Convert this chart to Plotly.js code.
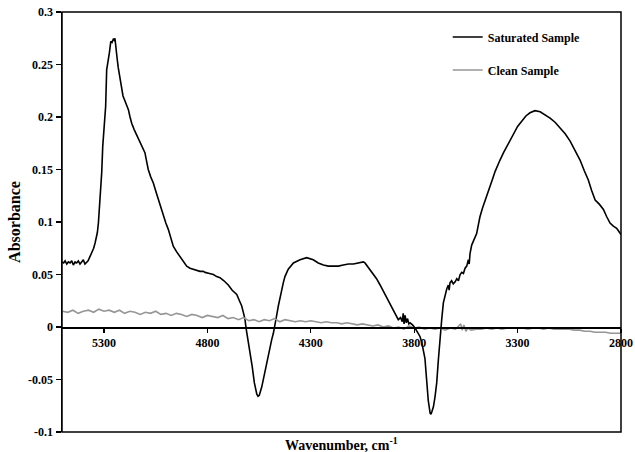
<!DOCTYPE html>
<html>
<head>
<meta charset="utf-8">
<script src="https://cdn.plot.ly/plotly-3.0.1.min.js"></script>
<style>
  html, body { margin: 0; padding: 0; background: #fff; }
  #chart { width: 635px; height: 452px; }
</style>
</head>
<body>
<div id="chart"></div>
<script>
// FTIR absorbance spectra: saturated vs clean sample
const satWavenumber = [
  5503, 5495, 5488, 5480, 5472, 5464, 5456, 5448, 5440, 5432, 5424, 5416, 5408, 5400, 5392, 5384, 5377,
  5370, 5360, 5350, 5343, 5336, 5332, 5327, 5323, 5316, 5311, 5306, 5298, 5292, 5287, 5280, 5274, 5267,
  5261, 5255, 5250, 5247, 5242, 5236, 5231, 5225, 5218, 5208, 5198, 5190, 5182, 5174, 5166, 5154, 5142,
  5130, 5118, 5110, 5102, 5094, 5086, 5074, 5061, 5049, 5037, 5025, 5013, 5001, 4989, 4977, 4965, 4950,
  4932, 4916, 4900, 4884, 4868, 4850, 4836, 4820, 4811, 4790, 4771, 4755, 4739, 4720, 4699, 4680, 4658,
  4645, 4634, 4625, 4618, 4613, 4604, 4594, 4583, 4573, 4561, 4555, 4549, 4537, 4529, 4521, 4513, 4505,
  4497, 4489, 4481, 4473, 4465, 4457, 4449, 4441, 4433, 4425, 4409, 4384, 4352, 4320, 4304, 4288, 4264,
  4239, 4215, 4191, 4167, 4143, 4118, 4094, 4070, 4046, 4038, 4030, 4014, 3998, 3982, 3965, 3949, 3933,
  3917, 3901, 3889, 3877, 3866, 3858, 3853, 3849, 3844, 3838, 3832, 3826, 3820, 3808, 3796, 3784, 3772,
  3763, 3755, 3748, 3740, 3732, 3723, 3719, 3715, 3707, 3699, 3691, 3683, 3675, 3667, 3659, 3651, 3643,
  3635, 3631, 3627, 3619, 3611, 3602, 3594, 3586, 3578, 3570, 3562, 3554, 3546, 3538, 3534, 3530, 3522,
  3510, 3498, 3490, 3482, 3470, 3457, 3445, 3433, 3421, 3409, 3397, 3385, 3368, 3352, 3336, 3320, 3300,
  3280, 3260, 3240, 3216, 3191, 3167, 3143, 3119, 3095, 3070, 3046, 3022, 2998, 2978, 2958, 2942, 2925,
  2905, 2885, 2869, 2853, 2837, 2821, 2810, 2800
];
const satAbsorbance = [
  0.062, 0.061, 0.063, 0.060, 0.062, 0.061, 0.063, 0.059, 0.062, 0.061, 0.063, 0.060, 0.062, 0.064, 0.060, 0.062, 0.063,
  0.066, 0.070, 0.075, 0.080, 0.086, 0.090, 0.099, 0.109, 0.128, 0.147, 0.172, 0.197, 0.210, 0.245, 0.252, 0.261, 0.272,
  0.271, 0.274, 0.273, 0.275, 0.262, 0.255, 0.247, 0.240, 0.228, 0.220, 0.215, 0.211, 0.207, 0.200, 0.194, 0.188, 0.183,
  0.178, 0.172, 0.169, 0.166, 0.158, 0.150, 0.143, 0.137, 0.129, 0.121, 0.113, 0.105, 0.099, 0.093, 0.085, 0.077, 0.072,
  0.067, 0.062, 0.058, 0.056, 0.055, 0.054, 0.053, 0.053, 0.052, 0.051, 0.050, 0.048, 0.047, 0.044, 0.040, 0.035, 0.031,
  0.025, 0.020, 0.013, 0.007, -0.001, -0.011, -0.022, -0.038, -0.053, -0.064, -0.066, -0.065, -0.057, -0.049, -0.041, -0.033, -0.025,
  -0.018, -0.012, -0.006, 0.001, 0.011, 0.020, 0.028, 0.036, 0.042, 0.048, 0.055, 0.061, 0.064, 0.066, 0.065, 0.064, 0.061,
  0.059, 0.058, 0.058, 0.058, 0.059, 0.060, 0.060, 0.061, 0.062, 0.061, 0.059, 0.055, 0.051, 0.046, 0.040, 0.034, 0.028,
  0.021, 0.015, 0.011, 0.007, 0.009, 0.005, 0.013, 0.003, 0.011, 0.004, 0.008, 0.003, 0.004, 0.002, -0.001, -0.005, -0.009,
  -0.015, -0.022, -0.030, -0.050, -0.070, -0.082, -0.083, -0.081, -0.076, -0.066, -0.053, -0.031, -0.009, 0.007, 0.023, 0.030, 0.036,
  0.040, 0.035, 0.042, 0.044, 0.041, 0.043, 0.046, 0.044, 0.050, 0.052, 0.051, 0.056, 0.058, 0.064, 0.060, 0.070, 0.078,
  0.084, 0.089, 0.097, 0.105, 0.113, 0.121, 0.128, 0.134, 0.141, 0.148, 0.154, 0.159, 0.166, 0.172, 0.179, 0.185, 0.191,
  0.196, 0.201, 0.204, 0.206, 0.205, 0.202, 0.199, 0.195, 0.190, 0.184, 0.177, 0.168, 0.159, 0.149, 0.140, 0.130, 0.121,
  0.117, 0.112, 0.105, 0.099, 0.096, 0.094, 0.091, 0.088
];

const cleanWavenumber = [
  5500, 5475, 5450, 5425, 5400, 5375, 5350, 5325, 5300, 5275, 5250, 5225, 5200, 5175, 5150, 5125, 5100, 5075,
  5050, 5025, 5000, 4975, 4950, 4925, 4900, 4875, 4850, 4825, 4800, 4775, 4750, 4725, 4700, 4675, 4650, 4625,
  4600, 4575, 4550, 4525, 4500, 4475, 4450, 4425, 4400, 4375, 4350, 4325, 4300, 4275, 4250, 4225, 4200, 4175,
  4150, 4125, 4100, 4075, 4050, 4025, 4000, 3975, 3950, 3925, 3900, 3875, 3850, 3825, 3800, 3775, 3750, 3725,
  3700, 3675, 3650, 3625, 3600, 3585, 3575, 3568, 3560, 3550, 3540, 3525, 3500, 3475, 3450, 3425, 3400, 3375,
  3350, 3325, 3300, 3275, 3250, 3225, 3200, 3175, 3150, 3125, 3100, 3075, 3050, 3025, 3000, 2975, 2950, 2925,
  2900, 2875, 2850, 2825, 2800
];
const cleanAbsorbance = [
  0.015, 0.014, 0.016, 0.013, 0.015, 0.016, 0.014, 0.017, 0.015, 0.016, 0.014, 0.016, 0.013, 0.015, 0.014, 0.012, 0.014, 0.013,
  0.015, 0.012, 0.013, 0.011, 0.013, 0.012, 0.010, 0.012, 0.011, 0.009, 0.011, 0.010, 0.009, 0.011, 0.008, 0.009, 0.007, 0.009,
  0.006, 0.007, 0.005, 0.007, 0.006, 0.008, 0.005, 0.007, 0.006, 0.005, 0.006, 0.005, 0.006, 0.005, 0.004, 0.005, 0.004, 0.004,
  0.003, 0.004, 0.003, 0.002, 0.003, 0.002, 0.001, 0.002, 0.000, 0.001, -0.001, 0.000, -0.002, 0.001, -0.001, 0.000, -0.002, -0.001,
  -0.002, -0.001, -0.003, -0.001, -0.002, 0.001, 0.003, -0.003, 0.002, -0.004, -0.001, -0.003, -0.002, -0.002, -0.001, -0.002, -0.001, -0.002,
  -0.001, -0.001, -0.001, -0.001, -0.002, -0.001, -0.001, -0.002, -0.001, -0.002, -0.002, -0.002, -0.002, -0.003, -0.003, -0.004, -0.004, -0.005,
  -0.005, -0.005, -0.006, -0.006, -0.006
];

const xTickVals = [5300, 4800, 4300, 3800, 3300, 2800];
const xTickText = ['5300', '4800', '4300', '3800', '3300', '2800'];
const yTickVals = [-0.1, -0.05, 0, 0.05, 0.1, 0.15, 0.2, 0.25, 0.3];
const yTickText = ['-0.1', '-0.05', '0', '0.05', '0.1', '0.15', '0.2', '0.25', '0.3'];

const serif = 'Liberation Serif, Times New Roman, serif';

const traces = [
  {
    x: satWavenumber, y: satAbsorbance, type: 'scatter', mode: 'lines',
    name: 'Saturated Sample', legendgroup: 'a',
    line: { color: '#000000', width: 1.6 }
  },
  {
    x: cleanWavenumber, y: cleanAbsorbance, type: 'scatter', mode: 'lines',
    name: 'Clean Sample', legendgroup: 'b',
    line: { color: '#969696', width: 1.6 }
  }
];

const layout = {
  width: 635, height: 452,
  margin: { l: 62, r: 14, t: 12, b: 20 },
  paper_bgcolor: '#ffffff', plot_bgcolor: '#ffffff',
  font: { family: serif, size: 12, color: '#000' },
  showlegend: true,
  legend: {
    x: 0.69, y: 0.975, xanchor: 'left', yanchor: 'top',
    bgcolor: 'rgba(0,0,0,0)', borderwidth: 0,
    font: { family: serif, size: 12, color: '#000', weight: 'bold' },
    tracegroupgap: 14, itemwidth: 30
  },
  xaxis: {
    range: [5503, 2800],
    anchor: 'free', position: 0.25,
    showline: true, linecolor: '#000', linewidth: 1.5,
    showgrid: false, zeroline: false,
    ticks: 'outside', ticklen: 4, tickwidth: 1.2, tickcolor: '#000',
    tickmode: 'array', tickvals: xTickVals, ticktext: xTickText,
    tickfont: { family: serif, size: 12, weight: 'bold' }
  },
  yaxis: {
    range: [-0.1, 0.3],
    showline: true, linecolor: '#000', linewidth: 1.5,
    showgrid: false, zeroline: false,
    ticks: 'outside', ticklen: 5, tickwidth: 1.2, tickcolor: '#000',
    tickmode: 'array', tickvals: yTickVals, ticktext: yTickText,
    tickfont: { family: serif, size: 12, weight: 'bold' },
    title: { text: 'Absorbance', font: { family: serif, size: 16, weight: 'bold' }, standoff: 3 }
  },
  shapes: [
    { type: 'rect', xref: 'paper', yref: 'paper', x0: 0, x1: 1, y0: 0, y1: 1,
      line: { color: '#000', width: 1.5 }, fillcolor: 'rgba(0,0,0,0)' }
  ],
  annotations: [
    { xref: 'paper', yref: 'paper', x: 0.5, y: 0, xanchor: 'center', yanchor: 'top', yshift: -1,
      showarrow: false, text: 'Wavenumber, cm<sup>-1</sup>',
      font: { family: serif, size: 14, weight: 'bold', color: '#000' } }
  ]
};

Plotly.newPlot('chart', traces, layout, { displayModeBar: false, staticPlot: true });
</script>
</body>
</html>
